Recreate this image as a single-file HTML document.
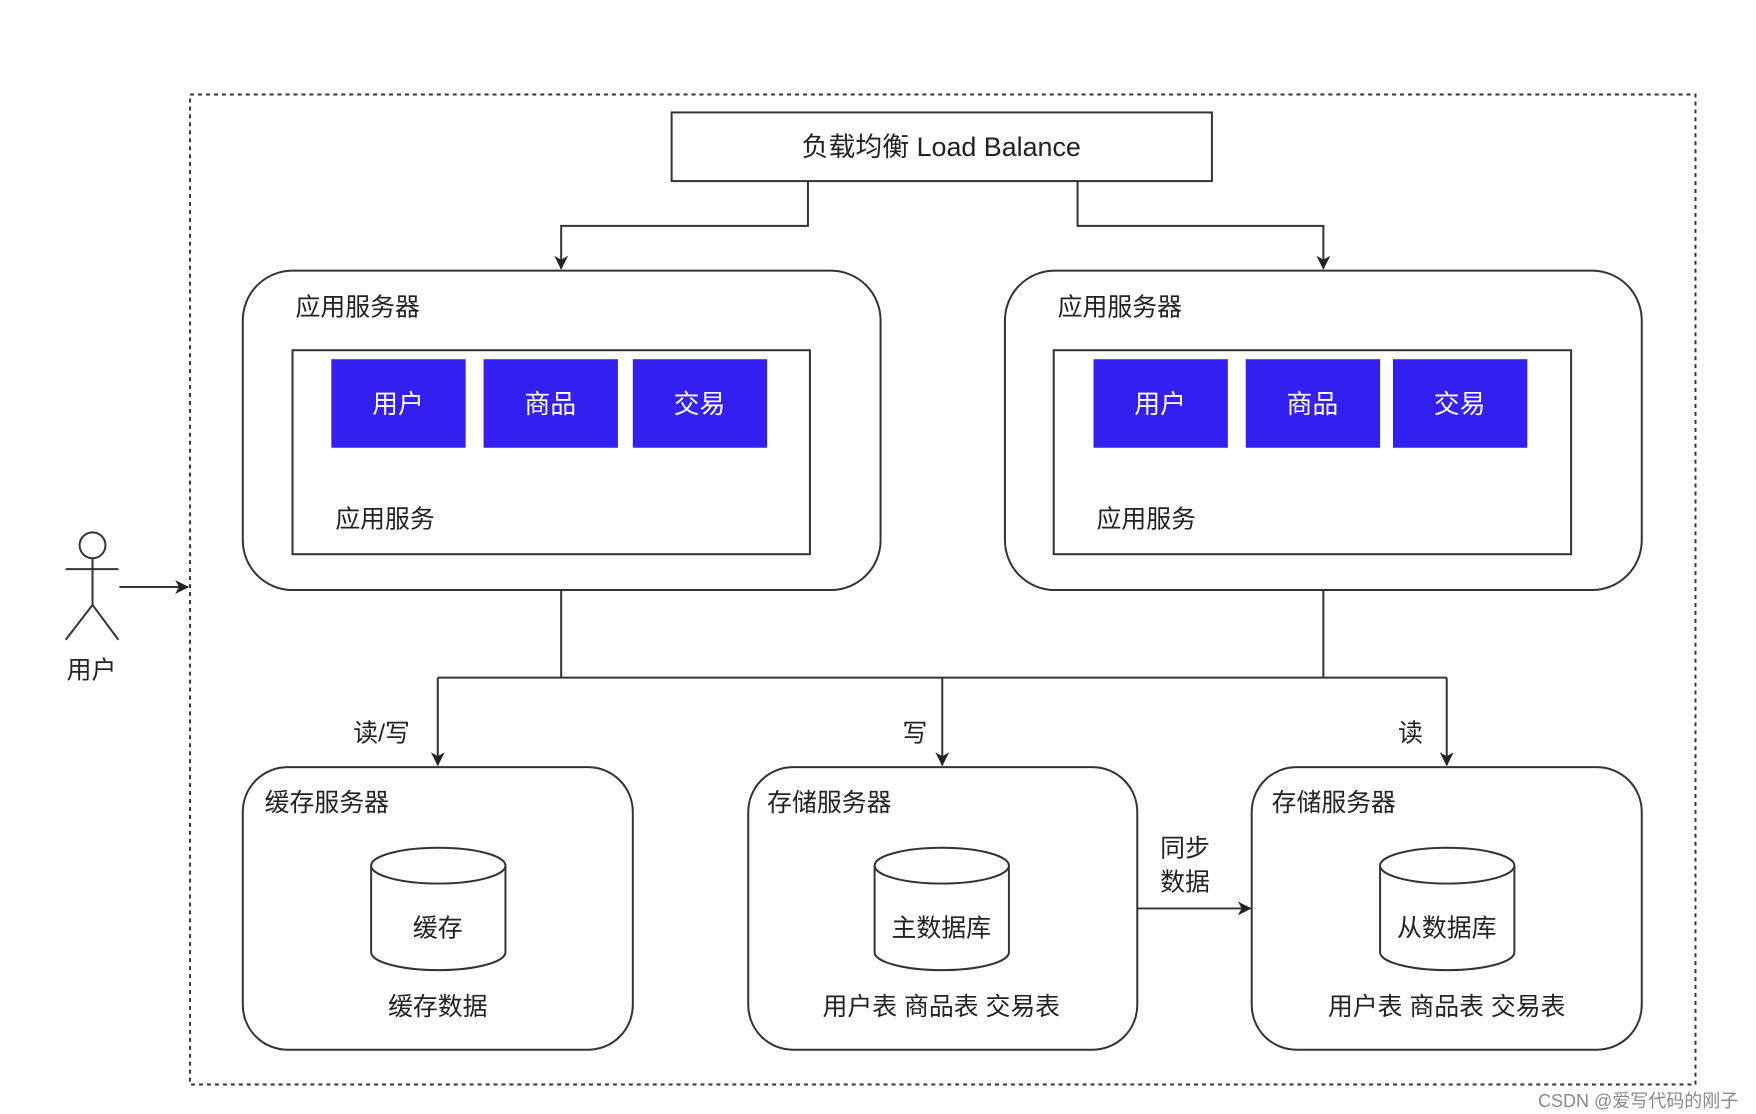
<!DOCTYPE html>
<html><head><meta charset="utf-8"><style>
html,body{margin:0;padding:0;background:#fff;}
svg{display:block;}
text{font-family:"Liberation Sans","Noto Sans CJK SC",sans-serif;fill:#222;}
</style></head><body>
<svg width="1756" height="1114" viewBox="0 0 1756 1114" xmlns="http://www.w3.org/2000/svg">
<defs>
<marker id="a" markerWidth="14" markerHeight="14" refX="13" refY="7" orient="auto" markerUnits="userSpaceOnUse">
<path d="M0,0 L14,7 L0,14 L4,7 Z" fill="#222"/>
</marker>
</defs>
<g transform="scale(0.995)">
<rect x="191" y="95" width="1513" height="995" fill="none" stroke="#333" stroke-width="2" stroke-dasharray="4,4"/>
<rect x="675" y="113" width="543" height="69" fill="#fff" stroke="#333" stroke-width="2"/>
<text x="946" y="157" font-size="27" text-anchor="middle">负载均衡 Load Balance</text>
<g fill="none" stroke="#333" stroke-width="2">
<path d="M812,182 V227 H564 V270" marker-end="url(#a)"/>
<path d="M1083,182 V227 H1330 V270" marker-end="url(#a)"/>
<rect x="244" y="272" width="641" height="321" rx="50"/>
<rect x="1010" y="272" width="640" height="321" rx="50"/>
<rect x="294" y="352" width="520" height="205"/>
<rect x="1059" y="352" width="520" height="205"/>
<path d="M564,593 V681 M1330,593 V681 M440,681 H1454"/>
<path d="M440,681 V769" marker-end="url(#a)"/>
<path d="M947,681 V769" marker-end="url(#a)"/>
<path d="M1454,681 V769" marker-end="url(#a)"/>
<rect x="244" y="771" width="392" height="284" rx="45"/>
<rect x="752" y="771" width="391" height="284" rx="45"/>
<rect x="1258" y="771" width="392" height="284" rx="45"/>
<path d="M1143,913 H1257" marker-end="url(#a)"/>
<path d="M120,590 H189" marker-end="url(#a)"/>
<circle cx="93" cy="548" r="13"/>
<path d="M66,572 H119 M93,561 V608 L66,643 M93,608 L119,643"/>
</g>
<text x="297" y="317" font-size="25">应用服务器</text>
<text x="1063" y="317" font-size="25">应用服务器</text>
<g fill="#3320f0">
<rect x="333" y="361" width="135" height="89"/><rect x="486" y="361" width="135" height="89"/><rect x="636" y="361" width="135" height="89"/>
<rect x="1099" y="361" width="135" height="89"/><rect x="1252" y="361" width="135" height="89"/><rect x="1400" y="361" width="135" height="89"/>
</g>
<g font-size="26" text-anchor="middle">
<text x="400" y="415" style="fill:#fff">用户</text><text x="553" y="415" style="fill:#fff">商品</text><text x="703" y="415" style="fill:#fff">交易</text>
<text x="1166" y="415" style="fill:#fff">用户</text><text x="1319" y="415" style="fill:#fff">商品</text><text x="1467" y="415" style="fill:#fff">交易</text>
</g>
<text x="337" y="530" font-size="25">应用服务</text>
<text x="1102" y="530" font-size="25">应用服务</text>
<text x="355" y="745" font-size="25">读/写</text>
<text x="907" y="745" font-size="25">写</text>
<text x="1405" y="745" font-size="25">读</text>
<text x="266" y="815" font-size="25">缓存服务器</text>
<text x="771" y="815" font-size="25">存储服务器</text>
<text x="1278" y="815" font-size="25">存储服务器</text>
<g fill="#fff" stroke="#333" stroke-width="2">
<path d="M373,870 V957 A67.5,18 0 0 0 508,957 V870"/><ellipse cx="440.5" cy="870" rx="67.5" ry="18"/>
<path d="M879,870 V957 A67.5,18 0 0 0 1014,957 V870"/><ellipse cx="946.5" cy="870" rx="67.5" ry="18"/>
<path d="M1387,870 V957 A67.5,18 0 0 0 1522,957 V870"/><ellipse cx="1454.5" cy="870" rx="67.5" ry="18"/>
</g>
<g font-size="25" text-anchor="middle">
<text x="440" y="941">缓存</text><text x="946" y="941">主数据库</text><text x="1454" y="941">从数据库</text>
<text x="440" y="1020">缓存数据</text><text x="946" y="1020">用户表 商品表 交易表</text><text x="1454" y="1020">用户表 商品表 交易表</text>
</g>
<text x="1166" y="861" font-size="25">同步</text>
<text x="1166" y="895" font-size="25">数据</text>
<text x="92" y="682" font-size="25" text-anchor="middle">用户</text>
</g>
<text x="1538" y="1107" font-size="18" style="fill:#888">CSDN @爱写代码的刚子</text>
</svg>
</body></html>
